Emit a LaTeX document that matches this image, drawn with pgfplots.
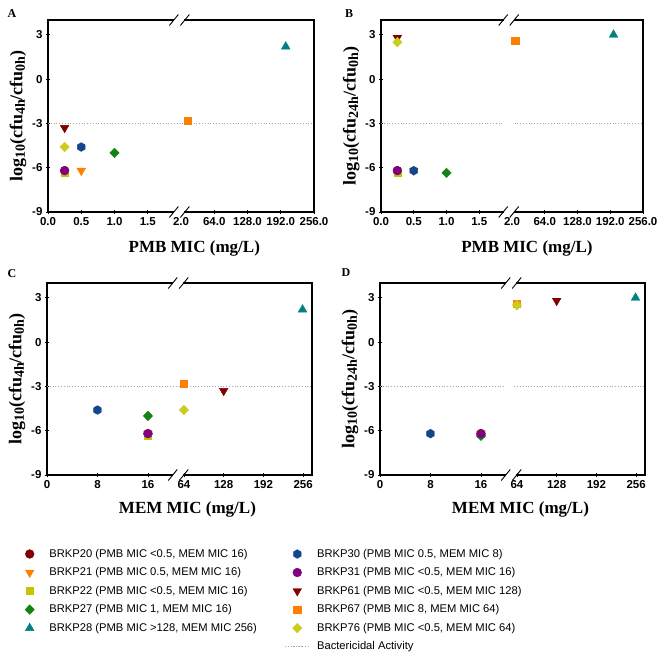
\documentclass[border=0pt]{standalone}
\usepackage{fontspec}
\setmainfont{Liberation Serif}
\setsansfont{Liberation Sans}
\usepackage{pgfplots}
\pgfplotsset{compat=1.18}

\definecolor{cDR}{RGB}{128,0,0}
\definecolor{cOR}{RGB}{255,128,0}
\definecolor{cY22}{RGB}{196,196,0}
\definecolor{cGR}{RGB}{20,130,20}
\definecolor{cTE}{RGB}{0,128,128}
\definecolor{cBL}{RGB}{20,70,140}
\definecolor{cPU}{RGB}{130,0,130}
\definecolor{cY76}{RGB}{204,204,30}

\newcommand\labfont{\fontsize{17}{20}\selectfont\bfseries}
\newcommand\ylabfont{\fontsize{18}{20}\selectfont\bfseries}
\newcommand\sub[1]{\raisebox{-0.3ex}{\fontsize{14}{15}\selectfont #1}}

\pgfdeclareplotmark{hexagon*}{%
  \pgfpathmoveto{\pgfqpointpolar{90}{\pgfplotmarksize}}%
  \pgfpathlineto{\pgfqpointpolar{150}{\pgfplotmarksize}}%
  \pgfpathlineto{\pgfqpointpolar{210}{\pgfplotmarksize}}%
  \pgfpathlineto{\pgfqpointpolar{270}{\pgfplotmarksize}}%
  \pgfpathlineto{\pgfqpointpolar{330}{\pgfplotmarksize}}%
  \pgfpathlineto{\pgfqpointpolar{30}{\pgfplotmarksize}}%
  \pgfpathclose
  \pgfusepathqfillstroke}

\pgfplotsset{
 s20/.style={only marks, mark=*, mark size=4.4pt, color=cDR},
 s21/.style={only marks, mark=triangle*, mark size=5pt, mark options={rotate=180}, color=cOR},
 s22/.style={only marks, mark=square*, mark size=3.6pt, color=cY22},
 s27/.style={only marks, mark=diamond*, mark size=4.8pt, mark options={xscale=1.3}, color=cGR},
 s28/.style={only marks, mark=triangle*, mark size=5pt, color=cTE},
 s30/.style={only marks, mark=hexagon*, mark size=4.4pt, color=cBL},
 s31/.style={only marks, mark=*, mark size=4.4pt, color=cPU},
 s61/.style={only marks, mark=triangle*, mark size=5pt, mark options={rotate=180}, color=cDR},
 s67/.style={only marks, mark=square*, mark size=3.6pt, color=cOR},
 s76/.style={only marks, mark=diamond*, mark size=4.8pt, mark options={xscale=1.3}, color=cY76},
 bact/.style={color=black!35, dotted, line width=0.8pt},
 bactleg/.style={bact, legend image code/.code={%
   \draw[##1, overlay] (0.3cm-12pt,0pt) -- (0.3cm+12pt,0pt);
   \path (0.3cm-4.4pt,0pt) -- (0.3cm+4.4pt,0pt);}},
 panel/.style={
   scale only axis, height=192pt,
   ymin=-9, ymax=4, ytick={-9,-6,-3,0,3}, yticklabels={-9,-6,-3,0,3},
   tick align=center, major tick length=4pt,
   tick style={black, line width=0.8pt},
   xtick pos=lower, ytick pos=left,
   axis line style={line width=1.2pt},
   ticklabel style={font=\fontsize{11.5}{13}\selectfont\sffamily\bfseries},
   every axis y label/.style={at={(axis description cs:-0.113,0.5)}, rotate=90, anchor=center, font=\ylabfont},
   clip=false,
 },
 pmb/.style={xmin=0, xmax=8, xtick={0,1,2,3,4,5,6,7,8},
   xticklabels={0.0,0.5,1.0,1.5,2.0,64.0,128.0,192.0,256.0},
   xlabel={PMB MIC (mg/L)}},
 mem/.style={xmin=0, xmax=42, xtick={0,8,16,21.7,28,34.3,40.6},
   xticklabels={0,8,16,64,128,192,256},
   xlabel={MEM MIC (mg/L)}},
}

\newcommand\brkat[2]{%
 \fill[white] ([xshift=-5pt,yshift=-1.8pt]axis cs:#1,#2) rectangle ([xshift=5pt,yshift=1.8pt]axis cs:#1,#2);
 \draw[line width=0.9pt] ([xshift=-10pt,yshift=-5.5pt]axis cs:#1,#2) -- ([xshift=-1pt,yshift=5.5pt]axis cs:#1,#2);
 \draw[line width=0.9pt] ([xshift=1pt,yshift=-5.5pt]axis cs:#1,#2) -- ([xshift=10pt,yshift=5.5pt]axis cs:#1,#2);
}

\begin{document}
\begin{tikzpicture}
\useasboundingbox (0,0) rectangle (666pt,-657pt);

\node[font=\fontsize{12}{14}\selectfont\bfseries] at (12pt,-14pt) {A};
\node[font=\fontsize{12}{14}\selectfont\bfseries] at (349pt,-14pt) {B};
\node[font=\fontsize{12}{14}\selectfont\bfseries] at (12pt,-274pt) {C};
\node[font=\fontsize{12}{14}\selectfont\bfseries] at (346pt,-273pt) {D};

% ---------------- A ----------------
\begin{axis}[panel, pmb, at={(48pt,-20pt)}, anchor=north west, width=266pt,
  every axis x label/.style={at={(axis description cs:0.55,0)}, anchor=center, yshift=-36pt, font=\labfont},
  ylabel={log\sub{10}(cfu\sub{4h}/cfu\sub{0h})}]
\addplot[bact, forget plot] coordinates {(0,-3) (8,-3)};
\addplot[s20] coordinates {(0.5,-6.2)};
\addplot[s21] coordinates {(1,-6.2)};
\addplot[s22] coordinates {(0.5,-6.3)};
\addplot[s27] coordinates {(2,-5.0)};
\addplot[s28] coordinates {(7.15,2.2)};
\addplot[s30] coordinates {(1,-4.6)};
\addplot[s31] coordinates {(0.5,-6.2)};
\addplot[s61] coordinates {(0.5,-3.3)};
\addplot[s67] coordinates {(4.19,-2.8)};
\addplot[s76] coordinates {(0.5,-4.6)};
\brkat{3.95}{4}\brkat{3.95}{-9}
\end{axis}

% ---------------- B ----------------
\begin{axis}[panel, pmb, at={(381pt,-20pt)}, anchor=north west, width=262pt,
  every axis x label/.style={at={(axis description cs:0.557,0)}, anchor=center, yshift=-36pt, font=\labfont},
  ylabel={log\sub{10}(cfu\sub{24h}/cfu\sub{0h})}]
\addplot[bact, forget plot] coordinates {(0,-3) (3.72,-3)};
\addplot[bact, forget plot] coordinates {(4.08,-3) (8,-3)};
\addplot[s20] coordinates {(0.5,-6.2)};
\addplot[s21] coordinates {(1,-6.2)};
\addplot[s22] coordinates {(0.5,-6.3)};
\addplot[s27] coordinates {(2,-6.35)};
\addplot[s28] coordinates {(7.1,3.0)};
\addplot[s30] coordinates {(1,-6.2)};
\addplot[s31] coordinates {(0.5,-6.2)};
\addplot[s61] coordinates {(0.5,2.8)};
\addplot[s67] coordinates {(4.1,2.6)};
\addplot[s76] coordinates {(0.5,2.5)};
\brkat{3.9}{4}\brkat{3.9}{-9}
\end{axis}

% ---------------- C ----------------
\begin{axis}[panel, mem, at={(47pt,-283pt)}, anchor=north west, width=265pt,
  every axis x label/.style={at={(axis description cs:0.53,0)}, anchor=center, yshift=-34pt, font=\labfont},
  ylabel={log\sub{10}(cfu\sub{4h}/cfu\sub{0h})}]
\addplot[bact, forget plot] coordinates {(0,-3) (42,-3)};
\addplot[s20] coordinates {(16,-6.2)};
\addplot[s21] coordinates {(16,-6.2)};
\addplot[s22] coordinates {(16,-6.3)};
\addplot[s27] coordinates {(16,-5.0)};
\addplot[s28] coordinates {(40.5,2.2)};
\addplot[s30] coordinates {(8,-4.6)};
\addplot[s31] coordinates {(16,-6.2)};
\addplot[s61] coordinates {(28,-3.3)};
\addplot[s67] coordinates {(21.7,-2.8)};
\addplot[s76] coordinates {(21.7,-4.6)};
\brkat{20.8}{4}\brkat{20.8}{-9}
\end{axis}

% ---------------- D ----------------
\begin{axis}[panel, mem, at={(380pt,-283pt)}, anchor=north west, width=265pt,
  every axis x label/.style={at={(axis description cs:0.53,0)}, anchor=center, yshift=-34pt, font=\labfont},
  ylabel={log\sub{10}(cfu\sub{24h}/cfu\sub{0h})}]
\addplot[bact, forget plot] coordinates {(0,-3) (19.7,-3)};
\addplot[bact, forget plot] coordinates {(21.3,-3) (42,-3)};
\addplot[s20] coordinates {(16,-6.2)};
\addplot[s21] coordinates {(16,-6.2)};
\addplot[s22] coordinates {(16,-6.2)};
\addplot[s27] coordinates {(16,-6.35)};
\addplot[s28] coordinates {(40.5,3.0)};
\addplot[s30] coordinates {(8,-6.2)};
\addplot[s31] coordinates {(16,-6.2)};
\addplot[s61] coordinates {(28,2.8)};
\addplot[s67] coordinates {(21.7,2.6)};
\addplot[s76] coordinates {(21.7,2.5)};
\brkat{20.8}{4}\brkat{20.8}{-9}
\end{axis}

% ---------------- Legend ----------------
\begin{axis}[at={(0pt,-530pt)}, anchor=north west, scale only axis,
  width=666pt, height=127pt, hide axis, xmin=0, xmax=1, ymin=0, ymax=1,
  legend columns=2,
  legend cell align=left,
  legend style={at={(rel axis cs:0.027,0.882)}, anchor=north west,
    draw=none, fill=none,
    font=\fontsize{11.2}{13}\selectfont\sffamily,
    row sep=4.9pt,
    /tikz/every odd column/.append style={column sep=13pt},
    /tikz/every even column/.append style={column sep=33.5pt}}]
\addlegendimage{s20}\addlegendentry{BRKP20 (PMB MIC <0.5, MEM MIC 16)}
\addlegendimage{s30}\addlegendentry{BRKP30 (PMB MIC 0.5, MEM MIC 8)}
\addlegendimage{s21}\addlegendentry{BRKP21 (PMB MIC 0.5, MEM MIC 16)}
\addlegendimage{s31}\addlegendentry{BRKP31 (PMB MIC <0.5, MEM MIC 16)}
\addlegendimage{s22}\addlegendentry{BRKP22 (PMB MIC <0.5, MEM MIC 16)}
\addlegendimage{s61}\addlegendentry{BRKP61 (PMB MIC <0.5, MEM MIC 128)}
\addlegendimage{s27}\addlegendentry{BRKP27 (PMB MIC 1, MEM MIC 16)}
\addlegendimage{s67}\addlegendentry{BRKP67 (PMB MIC 8, MEM MIC 64)}
\addlegendimage{s28}\addlegendentry{BRKP28 (PMB MIC >128, MEM MIC 256)}
\addlegendimage{s76}\addlegendentry{BRKP76 (PMB MIC <0.5, MEM MIC 64)}
\addlegendimage{empty legend}\addlegendentry{}
\addlegendimage{bactleg}\addlegendentry{Bactericidal Activity}
\end{axis}
\end{tikzpicture}
\end{document}
